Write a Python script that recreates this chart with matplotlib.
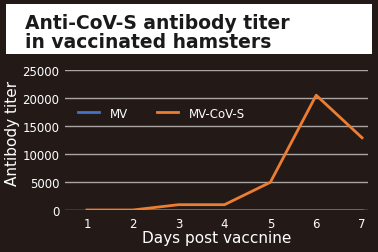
import matplotlib
matplotlib.use("Agg")
import matplotlib.pyplot as plt
from matplotlib.patches import Rectangle

# Data
days = [1, 2, 3, 4, 5, 6, 7]
mv = [0, 0, 0, 0, 0, 0, 0]
mv_cov_s = [0, 0, 950, 950, 4950, 20500, 12900]
y_ticks = [0, 5000, 10000, 15000, 20000, 25000]

bg = "#231a18"
fg = "white"
blue = "#4472c4"
orange = "#ed7d31"

plt.rcParams["font.family"] = ["DejaVu Sans"]

fig = plt.figure(figsize=(3.78, 2.53), dpi=100, facecolor=bg)

# White title box
fig.patches.append(Rectangle((6 / 378, 1 - 55 / 253), 366 / 378, 50 / 253,
                             transform=fig.transFigure, facecolor="white",
                             edgecolor="none", zorder=0))
fig.text(25 / 378, 1 - 14 / 253, "Anti-CoV-S antibody titer\nin vaccinated hamsters",
         ha="left", va="top", fontsize=13.5, fontweight="bold", color="#1a1a1a",
         linespacing=1.0)

ax = fig.add_axes([65 / 378, 1 - 211 / 253, 303 / 378, 140 / 253])
ax.set_facecolor(bg)

ax.plot(days, mv, color=blue, lw=2, label="MV", zorder=3)
ax.plot(days, mv_cov_s, color=orange, lw=2, label="MV-CoV-S", zorder=4)

ax.set_xlim(0.52, 7.13)
ax.set_ylim(0, 25000)
ax.set_xticks(days)
ax.set_yticks(y_ticks)
ax.grid(axis="y", color="#aaa4a2", lw=1)
ax.set_axisbelow(True)
for s in ax.spines.values():
    s.set_visible(False)
ax.tick_params(length=0, colors=fg, labelsize=8.5)
ax.tick_params(axis="y", pad=4)
ax.tick_params(axis="x", pad=5)

ax.set_xlabel("Days post vaccnine", color=fg, fontsize=11, labelpad=0)
ax.set_ylabel("Antibody titer", color=fg, fontsize=11)
ax.yaxis.set_label_coords(-45 / 303, 0.557)

fig.legend(loc="center left", bbox_to_anchor=(73 / 378, 1 - 114 / 253), ncol=2,
           frameon=False, fontsize=8.5, labelcolor=fg, handlelength=1.8,
           handletextpad=0.9, columnspacing=2.5, borderaxespad=0)

fig.savefig("out.png", dpi=100, facecolor=bg)
